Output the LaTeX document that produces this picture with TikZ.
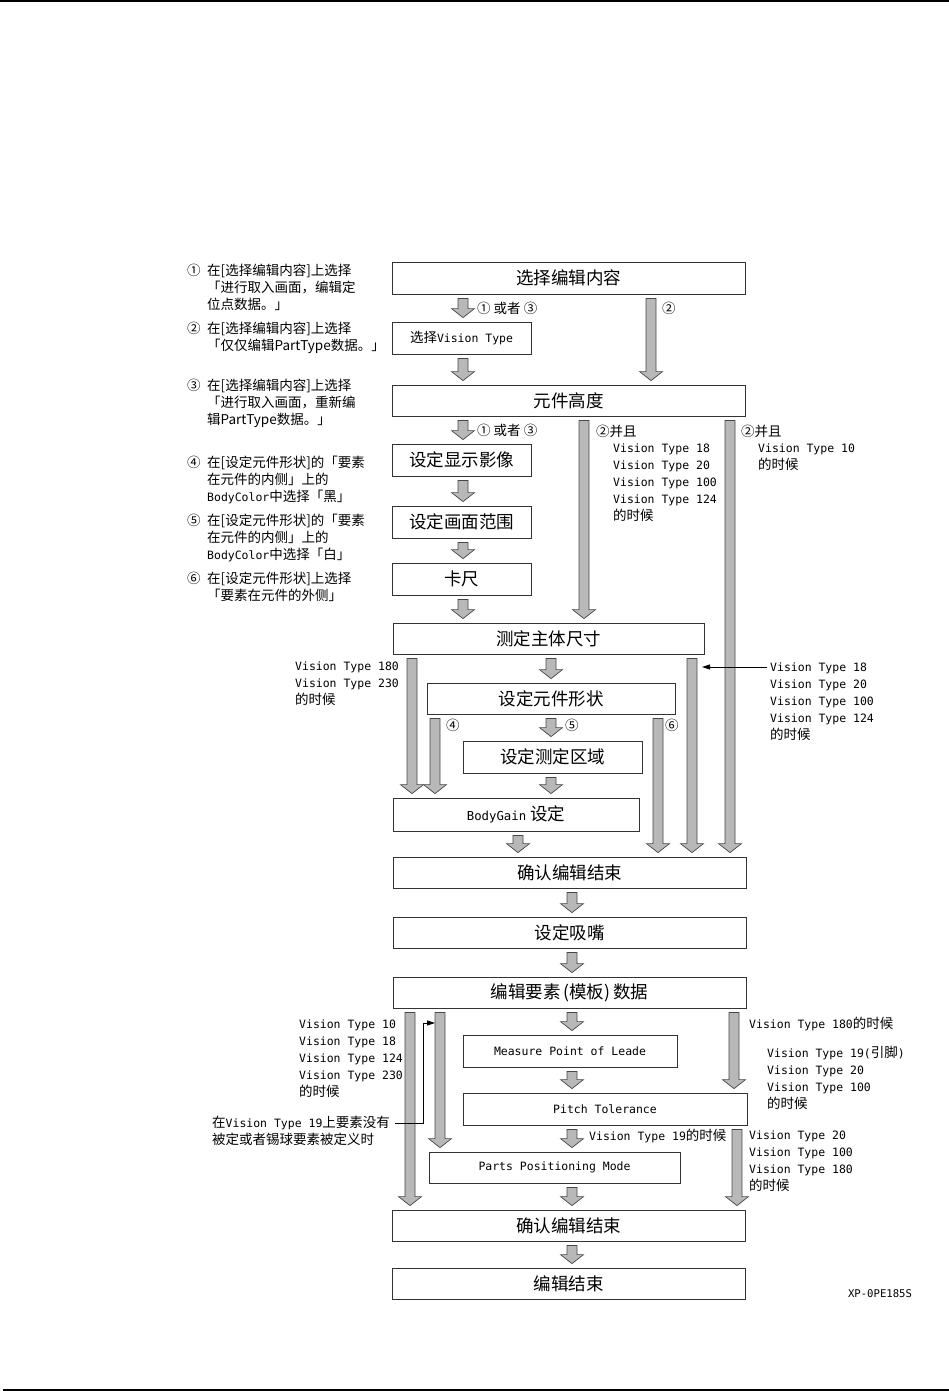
\documentclass[tikz,border=0pt]{standalone}
\usepackage{fontspec}
\usetikzlibrary{arrows.meta,calc}
\setmainfont{Noto Sans CJK SC}
\newfontfamily\monofnt{DejaVu Sans Mono}[Scale=0.85]
\newcommand\mm[1]{{\monofnt #1}}
\newcommand\fst{\rule{0pt}{12pt}}
\tikzset{
  box/.style={draw=black!80, line width=0.8pt, fill=white, inner sep=0pt, font=\fontsize{17.5}{20}\selectfont},
  smallbox/.style={box, font=\fontsize{13.5}{16}\selectfont},
  note/.style={anchor=north west, inner sep=0pt, align=left, font=\fontsize{13.5}{17}\selectfont},
  lbl/.style={anchor=west, inner sep=0pt, font=\fontsize{13.5}{17}\selectfont},
  fatstyle/.style={fill=black!28, draw=black!72, line width=0.7pt, line join=miter},
  ptr/.style={draw=black, line width=0.8pt, -{Triangle[length=8pt,width=5pt]}},
}
% #1 gap, #2 x, #3 from node, #4 to node
\newcommand\fatarr[4][4]{%
  \path[fatstyle] let \p1=(#3.south), \p2=(#4.north) in
    ({#2pt-5pt},{\y1-#1pt}) -- ({#2pt+5pt},{\y1-#1pt}) -- ({#2pt+5pt},{\y2+#1pt+9pt})
    -- ({#2pt+11.5pt},{\y2+#1pt+9pt}) -- ({#2pt},{\y2+#1pt}) -- ({#2pt-11.5pt},{\y2+#1pt+9pt})
    -- ({#2pt-5pt},{\y2+#1pt+9pt}) -- cycle;
}
\begin{document}
\begin{tikzpicture}[x=1pt,y=-1pt]
\useasboundingbox (0,0) rectangle (949,1391);
\fill[white] (0,0) rectangle (949,1391);
\fill[black] (0,0) rectangle (949,2);
\fill[black] (3,1388.5) rectangle (949,1390.5);

% ---------- boxes ----------
\node[box, minimum width=353pt, minimum height=32pt] (b1) at (568.5,278) {选择编辑内容};
\node[smallbox, minimum width=139pt, minimum height=32pt] (b2) at (461.5,338) {选择\mm{Vision Type}};
\node[box, minimum width=353pt, minimum height=31pt] (b3) at (568.5,400.5) {元件高度};
\node[box, minimum width=139pt, minimum height=32pt] (b4) at (461.5,460) {设定显示影像};
\node[box, minimum width=139pt, minimum height=32pt] (b5) at (461.5,522) {设定画面范围};
\node[box, minimum width=139pt, minimum height=32pt] (b6) at (461.5,579) {卡尺};
\node[box, minimum width=311pt, minimum height=31pt] (b7) at (548.5,638.5) {测定主体尺寸};
\node[box, minimum width=248pt, minimum height=31pt] (b8) at (551,698.5) {设定元件形状};
\node[box, minimum width=179pt, minimum height=32pt] (b9) at (552.5,757) {设定测定区域};
\node[box, minimum width=246pt, minimum height=33pt] (b10) at (516,814.5) {{\fontsize{14.5}{16}\selectfont\mm{BodyGain}} 设定};
\node[box, minimum width=353pt, minimum height=31pt] (b11) at (569.5,872.5) {确认编辑结束};
\node[box, minimum width=353pt, minimum height=31pt] (b12) at (569.5,932.5) {设定吸嘴};
\node[box, minimum width=353pt, minimum height=31pt] (b13) at (569.5,992.5) {编辑要素\,(模板)\,数据};
\node[smallbox, minimum width=214pt, minimum height=32pt] (b14) at (570,1051) {\mm{Measure Point of Leade}};
\node[smallbox, minimum width=284pt, minimum height=32pt] (b15) at (605,1109) {\mm{Pitch Tolerance}};
\node[smallbox, minimum width=251pt, minimum height=31pt] (b16) at (554.5,1167.5) {\mm{Parts Positioning Mode}};
\node[box, minimum width=353pt, minimum height=31pt] (b17) at (568.5,1225.5) {确认编辑结束};
\node[box, minimum width=353pt, minimum height=31pt] (b18) at (568.5,1283.5) {编辑结束};

% ---------- fat arrows ----------
\fatarr{463}{b1}{b2}
\fatarr{651}{b1}{b3}
\fatarr{463}{b2}{b3}
\fatarr{463}{b3}{b4}
\fatarr{584}{b3}{b7}
\fatarr{730}{b3}{b11}
\fatarr{463}{b4}{b5}
\fatarr{463}{b5}{b6}
\fatarr{463}{b6}{b7}
\fatarr{412}{b7}{b10}
\fatarr{551}{b7}{b8}
\fatarr{692}{b7}{b11}
\fatarr{435}{b8}{b10}
\fatarr{551}{b8}{b9}
\fatarr{658}{b8}{b11}
\fatarr{551}{b9}{b10}
\fatarr{518}{b10}{b11}
\fatarr{572}{b11}{b12}
\fatarr{572}{b12}{b13}
\fatarr{410}{b13}{b17}
\fatarr{440}{b13}{b16}
\fatarr{572}{b13}{b14}
\fatarr{734}{b13}{b15}
\fatarr{572}{b14}{b15}
\fatarr{572}{b15}{b16}
\fatarr{737}{b15}{b17}
\fatarr{572}{b16}{b17}
\fatarr{572}{b17}{b18}

% ---------- left notes ----------
\node[lbl] (c1) at (187,270) {①};
\node[note] (t1) at (207,263) {\fst 在[选择编辑内容]上选择\\「进行取入画面，编辑定\\位点数据。」};
\node[lbl] (c2) at (187,328) {②};
\node[note] (t2) at (207,321) {\fst 在[选择编辑内容]上选择\\「仅仅编辑PartType数据。」};
\node[lbl] (c3) at (187,385) {③};
\node[note] (t3) at (207,378) {\fst 在[选择编辑内容]上选择\\「进行取入画面，重新编\\辑PartType数据。」};
\node[lbl] (c4) at (187,462) {④};
\node[note] (t4) at (207,455) {\fst 在[设定元件形状]的「要素\\在元件的内侧」上的\\\mm{BodyColor}中选择「黑」};
\node[lbl] (c5) at (187,520) {⑤};
\node[note] (t5) at (207,513) {\fst 在[设定元件形状]的「要素\\在元件的内侧」上的\\\mm{BodyColor}中选择「白」};
\node[lbl] (c6) at (187,578) {⑥};
\node[note] (t6) at (207,571) {\fst 在[设定元件形状]上选择\\「要素在元件的外侧」};

% ---------- arrow labels ----------
\node[lbl] (l1) at (477,308) {① 或者 ③};
\node[lbl] (l2) at (662,308) {②};
\node[lbl] (l3) at (477,430) {① 或者 ③};
\node[lbl] (l4a) at (596,431) {②并且};
\node[note] (l4b) at (613,440.5) {\fst\mm{Vision Type 18}\\\mm{Vision Type 20}\\\mm{Vision Type 100}\\\mm{Vision Type 124}\\的时候};
\node[lbl] (l5a) at (741,431) {②并且};
\node[note] (l5b) at (758,440.5) {\fst\mm{Vision Type 10}\\的时候};
\node[note] (l6) at (295,658.5) {\fst\mm{Vision Type 180}\\\mm{Vision Type 230}\\的时候};
\node[lbl] (l7) at (446,725) {④};
\node[lbl] (l8) at (565,725) {⑤};
\node[lbl] (l9) at (665,725) {⑥};
\node[note] (l10) at (770,659.5) {\fst\mm{Vision Type 18}\\\mm{Vision Type 20}\\\mm{Vision Type 100}\\\mm{Vision Type 124}\\的时候};
\node[note] (l11) at (299,1016.5) {\fst\mm{Vision Type 10}\\\mm{Vision Type 18}\\\mm{Vision Type 124}\\\mm{Vision Type 230}\\的时候};
\node[note] (l12) at (212,1115.5) {\fst 在\mm{Vision Type 19}上要素没有\\被定或者锡球要素被定义时};
\node[lbl] (l13) at (589,1136) {\mm{Vision Type 19}的时候};
\node[lbl] (l14) at (749,1024) {\mm{Vision Type 180}的时候};
\node[note] (l15) at (767,1045.5) {\fst\mm{Vision Type 19(}引脚\mm{)}\\\mm{Vision Type 20}\\\mm{Vision Type 100}\\的时候};
\node[note] (l16) at (749,1127.5) {\fst\mm{Vision Type 20}\\\mm{Vision Type 100}\\\mm{Vision Type 180}\\的时候};
\node[anchor=center, inner sep=0pt, font=\fontsize{12.5}{14}\selectfont] (code) at (880,1294) {\mm{XP-0PE185S}};

% ---------- pointer lines ----------
\coordinate (p1s) at (767,667);
\coordinate (p1e) at (702,667);
\draw[ptr] (p1s) -- (p1e);
\coordinate (p2s) at (395,1123);
\coordinate (p2m) at (423,1023);
\coordinate (p2e) at (435,1023);
\draw[ptr] (p2s) -| (p2m) -- (p2e);
\end{tikzpicture}
\end{document}
